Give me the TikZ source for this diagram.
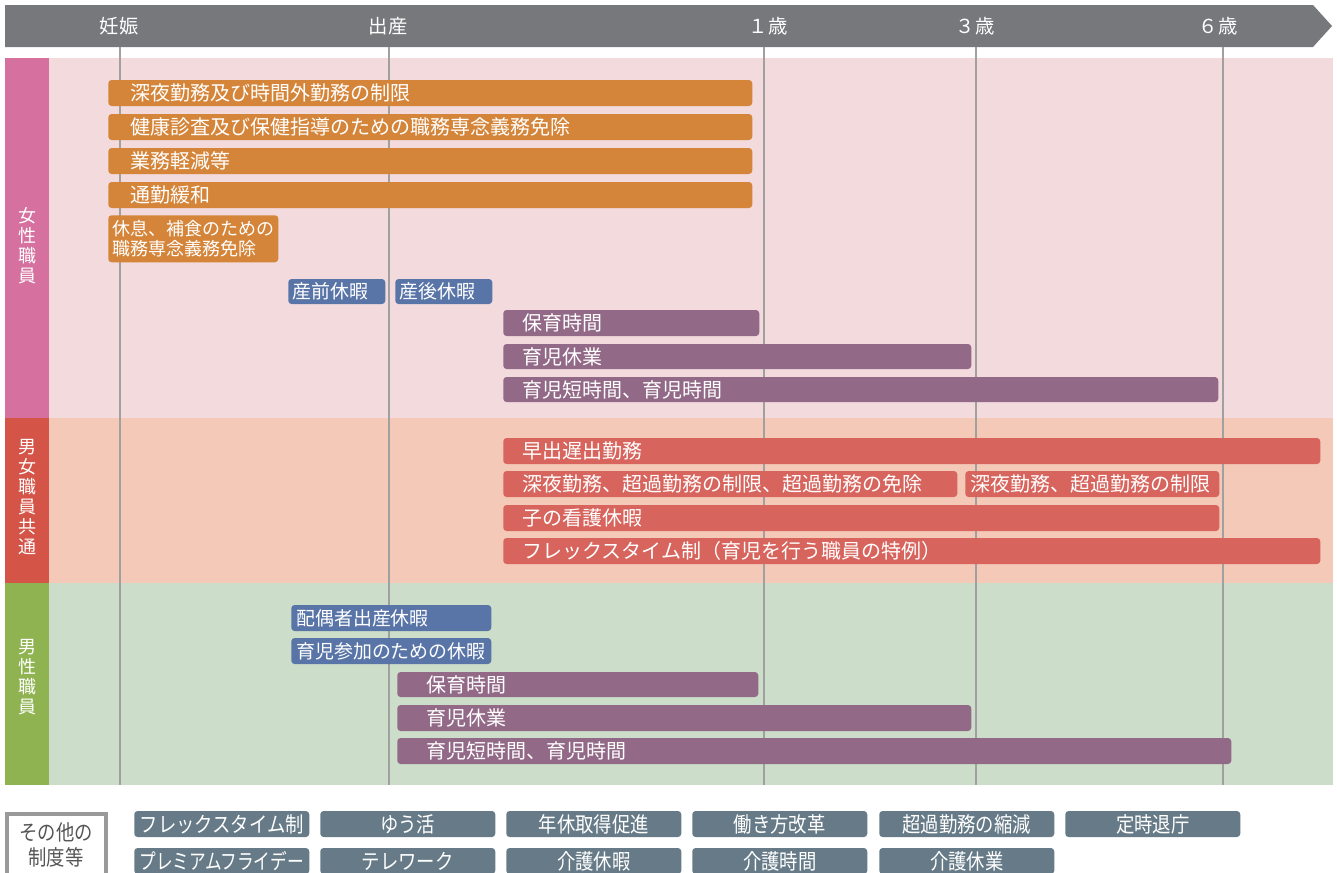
\documentclass[tikz,border=0pt]{standalone}
\usepackage{fontspec}
\setmainfont{Noto Sans CJK JP}
\newfontfamily\condfont[FakeStretch=0.86]{Noto Sans CJK JP}
\newfontfamily\condfontb[FakeStretch=0.78]{Noto Sans CJK JP}
\definecolor{arrowgray}{HTML}{77787C}
\definecolor{tabpink}{HTML}{D5709F}
\definecolor{bgpink}{HTML}{F2DADD}
\definecolor{tabred}{HTML}{D55448}
\definecolor{bgsalmon}{HTML}{F4C9B7}
\definecolor{tabgreen}{HTML}{8FB350}
\definecolor{bggreen}{HTML}{CCDEC9}
\definecolor{barorange}{HTML}{D58539}
\definecolor{barblue}{HTML}{5975A7}
\definecolor{barpurple}{HTML}{926987}
\definecolor{barred}{HTML}{D7655D}
\definecolor{barslate}{HTML}{667B87}
\definecolor{linegray}{HTML}{A0A0A0}
\definecolor{boxgray}{HTML}{9A9A9A}
\definecolor{textgray}{HTML}{555555}
\tikzset{
  bar/.style={rounded corners=2.5pt, text=white, font=\fontsize{15}{16}\selectfont, inner ysep=0pt, align=left},
  orangebar/.style={bar, fill=barorange},
  bluebar/.style={bar, fill=barblue, font=\fontsize{14.2}{16}\selectfont},
  purplebar/.style={bar, fill=barpurple},
  redbar/.style={bar, fill=barred},
  slatebar/.style={bar, fill=barslate, align=center, font=\condfont\fontsize{16}{17}\selectfont},
  toplab/.style={text=white, font=\fontsize{14.5}{16}\selectfont, inner sep=0pt},
  tablab/.style={text=white, font=\fontsize{13.5}{15}\selectfont, align=center, inner sep=0pt},
  vline/.style={draw=linegray, line width=1.1pt},
}
% name, style, x1, y1, x2, y2, indent, text
\newcommand\bbar[8]{%
  \pgfmathsetmacro\bw{(#5-#3-2*#7)*0.75}%
  \pgfmathsetmacro\bh{(#6-#4)*0.75}%
  \pgfmathsetmacro\bi{#7*0.75}%
  \pgfmathsetmacro\bmy{(#4+#6)/2}%
  \node[#2, anchor=west, minimum height=\bh pt, text width=\bw pt, inner xsep=\bi pt] (#1) at (#3,\bmy) {#8};}
\begin{document}
\begin{tikzpicture}[x=0.75pt,y=-0.75pt]
\useasboundingbox (0,0) rectangle (1337,872);
% timeline arrow
\fill[arrowgray] (5,5) -- (1313,5) -- (1332,26) -- (1313,47) -- (5,47) -- cycle;
\node[toplab] (tpreg) at (119,26) {妊娠};
\node[toplab] (tbirth) at (388,26) {出産};
\node[toplab] (t1) at (768,26) {１歳};
\node[toplab] (t3) at (975,26) {３歳};
\node[toplab] (t6) at (1218,26) {６歳};
% bands
\fill[bgpink] (49,58) rectangle (1333,418);
\fill[tabpink] (5,58) rectangle (49,418);
\fill[bgsalmon] (49,418) rectangle (1333,583);
\fill[tabred] (5,418) rectangle (49,583);
\fill[bggreen] (49,583) rectangle (1333,785);
\fill[tabgreen] (5,583) rectangle (49,785);
\node[tablab] (lw) at (27,246) {女\\性\\職\\員};
\node[tablab] (lc) at (27,497) {男\\女\\職\\員\\共\\通};
\node[tablab] (lm) at (27,677) {男\\性\\職\\員};
% vertical grid lines
\foreach \x in {120,389,764,976,1223} \draw[vline] (\x,47) -- (\x,785);
% women
\bbar{w1}{orangebar}{108}{80}{752}{106}{22}{深夜勤務及び時間外勤務の制限}
\bbar{w2}{orangebar}{108}{114}{752}{140}{22}{健康診査及び保健指導のための職務専念義務免除}
\bbar{w3}{orangebar}{108}{148}{752}{174}{22}{業務軽減等}
\bbar{w4}{orangebar}{108}{182}{752}{208}{22}{通勤緩和}
\node[orangebar, anchor=north west, minimum width=127.5pt, minimum height=35.25pt, inner xsep=3pt, font=\fontsize{13.5}{15}\selectfont] (w5) at (108,215) {休息、補食のための\\職務専念義務免除};
\bbar{w6}{bluebar}{288}{279}{385}{304}{4}{産前休暇}
\bbar{w7}{bluebar}{395}{279}{492}{304}{4}{産後休暇}
\bbar{w8}{purplebar}{503}{310}{759}{336}{19}{保育時間}
\bbar{w9}{purplebar}{503}{344}{971}{369}{19}{育児休業}
\bbar{w10}{purplebar}{503}{377}{1218}{402}{19}{育児短時間、育児時間}
% common
\bbar{c1}{redbar}{503}{438}{1320}{464}{19}{早出遅出勤務}
\bbar{c2}{redbar}{503}{471}{957}{497}{19}{深夜勤務、超過勤務の制限、超過勤務の免除}
\bbar{c3}{redbar}{965}{471}{1219}{497}{5}{深夜勤務、超過勤務の制限}
\bbar{c4}{redbar}{503}{505}{1219}{531}{19}{子の看護休暇}
\bbar{c5}{redbar}{503}{538}{1320}{564}{19}{フレックスタイム制（育児を行う職員の特例）}
% men
\bbar{m1}{bluebar}{291}{605}{491}{631}{5}{配偶者出産休暇}
\bbar{m2}{bluebar}{291}{638}{491}{664}{5}{育児参加のための休暇}
\bbar{m3}{purplebar}{397}{672}{758}{697}{29}{保育時間}
\bbar{m4}{purplebar}{397}{705}{971}{731}{29}{育児休業}
\bbar{m5}{purplebar}{397}{738}{1231}{764}{29}{育児短時間、育児時間}
% other systems
\draw[boxgray, line width=2.6pt] (7,814) rectangle (106,890);
\node[text=textgray, font=\condfont\fontsize{16}{19}\selectfont, align=center, inner sep=0pt] (other) at (56,845) {その他の\\制度等};
\bbar{o1}{slatebar}{134}{811}{309}{837}{1}{フレックスタイム制}
\bbar{o2}{slatebar}{320}{811}{495}{837}{1}{ゆう活}
\bbar{o3}{slatebar}{506}{811}{681}{837}{1}{年休取得促進}
\bbar{o4}{slatebar}{692}{811}{867}{837}{1}{働き方改革}
\bbar{o5}{slatebar}{879}{811}{1054}{837}{1}{超過勤務の縮減}
\bbar{o6}{slatebar}{1065}{811}{1240}{837}{1}{定時退庁}
\bbar{p1}{slatebar, font=\condfontb\fontsize{16}{17}\selectfont}{134}{848}{309}{874}{1}{プレミアムフライデー}
\bbar{p2}{slatebar}{320}{848}{495}{874}{1}{テレワーク}
\bbar{p3}{slatebar}{506}{848}{681}{874}{1}{介護休暇}
\bbar{p4}{slatebar}{692}{848}{867}{874}{1}{介護時間}
\bbar{p5}{slatebar}{879}{848}{1054}{874}{1}{介護休業}
\end{tikzpicture}
\end{document}
